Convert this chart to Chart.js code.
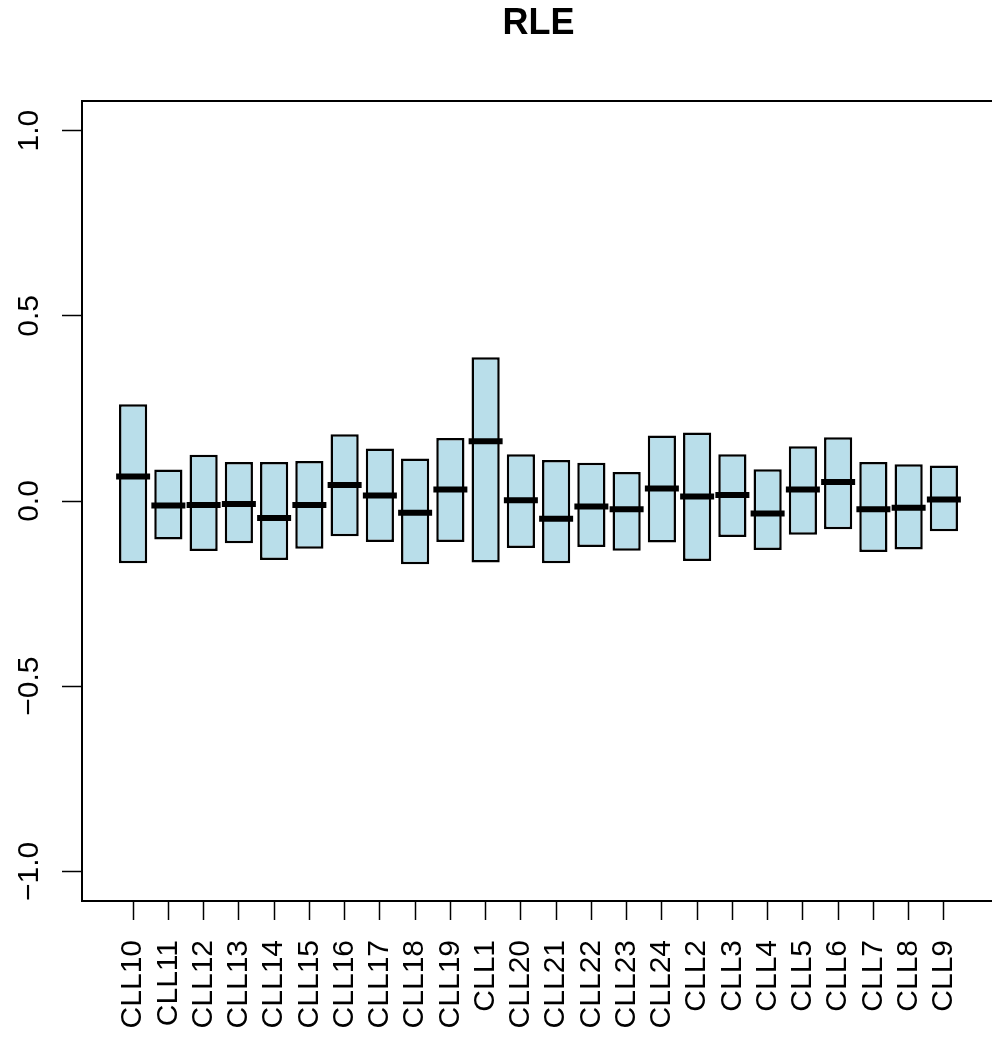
<!DOCTYPE html>
<html>
<head>
<meta charset="utf-8">
<title>RLE</title>
<script src="https://cdn.jsdelivr.net/npm/chart.js@4"></script>
<style>
    html, body { margin: 0; padding: 0; background: #fff; overflow: hidden; }
    #wrap { width: 1077px; height: 1040px; }
</style>
</head>
<body>
<div id="wrap"><canvas id="rleChart" width="1077" height="1040"></canvas></div>
<script>
// samples, in plot order
const samples = ['CLL10', 'CLL11', 'CLL12', 'CLL13', 'CLL14', 'CLL15', 'CLL16', 'CLL17',
    'CLL18', 'CLL19', 'CLL1', 'CLL20', 'CLL21', 'CLL22', 'CLL23', 'CLL24',
    'CLL2', 'CLL3', 'CLL4', 'CLL5', 'CLL6', 'CLL7', 'CLL8', 'CLL9'];

// relative log expression: lower quartile, median, upper quartile
const lowerQ = [-0.168, -0.104, -0.135, -0.114, -0.159, -0.129, -0.095, -0.111,
    -0.171, -0.111, -0.166, -0.127, -0.168, -0.124, -0.134, -0.112,
    -0.162, -0.097, -0.132, -0.091, -0.076, -0.138, -0.131, -0.082];
const medians = [0.066, -0.012, -0.011, -0.008, -0.046, -0.011, 0.043, 0.015,
    -0.032, 0.031, 0.161, 0.002, -0.048, -0.015, -0.022, 0.034,
    0.012, 0.016, -0.034, 0.031, 0.051, -0.022, -0.018, 0.004];
const upperQ = [0.261, 0.085, 0.125, 0.105, 0.105, 0.108, 0.180, 0.142,
    0.115, 0.170, 0.388, 0.126, 0.111, 0.103, 0.078, 0.177,
    0.185, 0.126, 0.086, 0.148, 0.172, 0.105, 0.099, 0.096];

const yTicks = [-1, -0.5, 0, 0.5, 1];

const fontFamily = '"Liberation Sans", Arial, Helvetica, sans-serif';

const boxData = samples.map((s, i) => ({ x: i, y: [lowerQ[i], upperQ[i]] }));
const medData = samples.map((s, i) => ({ x: i, y: medians[i] }));

function fmtTick(v) {
    const s = Math.abs(v).toFixed(1);
    return v < 0 ? '\u2212' + s : s;
}

const ctx = document.getElementById('rleChart').getContext('2d');
const rleChart = new Chart(ctx, {
    type: 'bar',
    data: {
        datasets: [
            {
                type: 'bar',
                data: boxData,
                backgroundColor: 'rgb(185, 222, 234)',
                borderColor: '#000',
                borderWidth: 2.5,
                borderSkipped: false,
                categoryPercentage: 1,
                barPercentage: 0.8,
                order: 2
            },
            {
                type: 'line',
                data: medData,
                showLine: false,
                pointStyle: 'line',
                pointRadius: 17,
                pointBorderWidth: 6,
                pointBorderColor: '#000',
                borderColor: '#000',
                order: 1
            }
        ]
    },
    options: {
        responsive: false,
        animation: false,
        layout: { padding: { top: 0, left: 0, right: 82, bottom: 0 } },
        plugins: {
            legend: { display: false },
            tooltip: { enabled: false },
            title: {
                display: true,
                fullSize: false,
                text: 'RLE',
                color: '#000',
                font: { family: fontFamily, size: 36, weight: 'bold', lineHeight: 1.2 },
                padding: { top: 2, bottom: 55.8 }
            }
        },
        scales: {
            x: {
                type: 'linear',
                position: 'bottom',
                offset: false,
                min: -1.45,
                max: 24.45,
                afterBuildTicks: (scale) => { scale.ticks = samples.map((s, i) => ({ value: i })); },
                afterFit: (scale) => { scale.height = 139; },
                ticks: {
                    autoSkip: false,
                    minRotation: 90,
                    maxRotation: 90,
                    padding: 20,
                    color: '#000',
                    font: { family: fontFamily, size: 30 },
                    callback: (v) => samples[v]
                },
                grid: {
                    offset: false,
                    drawOnChartArea: false,
                    drawTicks: true,
                    tickLength: 19,
                    tickColor: '#000',
                    tickWidth: 1.5
                },
                border: { display: true, color: '#000', width: 2 }
            },
            xTop: {
                type: 'linear',
                position: 'top',
                offset: false,
                min: -1.45,
                max: 24.45,
                afterFit: (scale) => { scale.height = 0; },
                ticks: { display: false },
                grid: { display: false },
                border: { display: true, color: '#000', width: 2 }
            },
            y: {
                type: 'linear',
                position: 'left',
                min: -1.08,
                max: 1.08,
                afterBuildTicks: (scale) => { scale.ticks = yTicks.map(v => ({ value: v })); },
                afterFit: (scale) => { scale.width = 82; },
                ticks: {
                    minRotation: 90,
                    maxRotation: 90,
                    crossAlign: 'center',
                    padding: 3,
                    color: '#000',
                    font: { family: fontFamily, size: 30 },
                    callback: (v) => fmtTick(v)
                },
                grid: {
                    drawOnChartArea: false,
                    drawTicks: true,
                    tickLength: 20,
                    tickColor: '#000',
                    tickWidth: 1.5
                },
                border: { display: true, color: '#000', width: 2 }
            }
        }
    }
});
</script>
</body>
</html>
